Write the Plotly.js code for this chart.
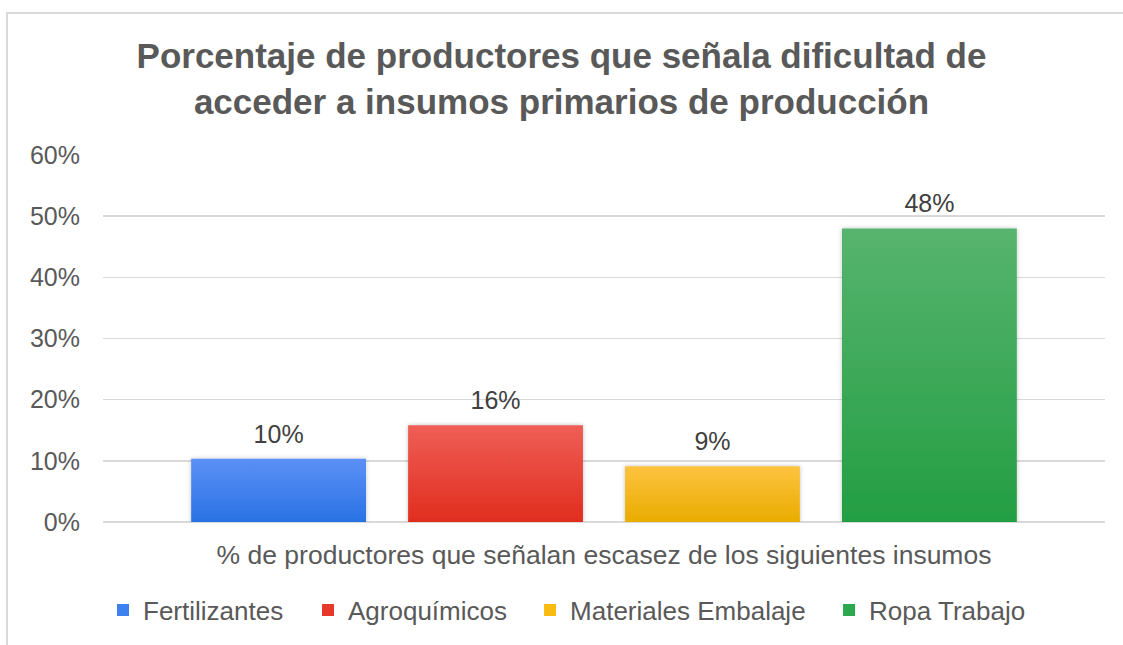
<!DOCTYPE html>
<html>
<head>
<meta charset="utf-8">
<script src="https://cdn.plot.ly/plotly-3.0.1.min.js"></script>
<style>
  html, body { margin: 0; padding: 0; background: #fff; }
  #wrap { position: relative; width: 1123px; height: 645px; overflow: hidden; }
  #chart { width: 1123px; height: 645px; }
  #frame { position: absolute; left: 6px; top: 12px; right: -10px; bottom: -10px;
           border-left: 2px solid #d9d9d9; border-top: 2px solid #d9d9d9; pointer-events: none; }
</style>
</head>
<body>
<div id="wrap">
  <div id="chart"></div>
  <div id="frame"></div>
</div>
<script>
// Data
const category = ["% de productores que señalan escasez de los siguientes insumos"];
const seriesNames = ["Fertilizantes", "Agroquímicos", "Materiales Embalaje", "Ropa Trabajo"];
const seriesValues = [10.35, 15.8, 9.1, 48.0];
const yTickVals = [0, 10, 20, 30, 40, 50, 60];
const yTickText = ["0%", "10%", "20%", "30%", "40%", "50%", "60%"];

// Styles
const FONT = "Liberation Sans, Arial, sans-serif";
const colors = ["#3d80f0", "#e8382c", "#f8bb12", "#2ea84f"];
const gradients = [
  ["#5b90f6", "#2a72e4"],
  ["#ef5e56", "#e02d1e"],
  ["#fdc340", "#e9ac00"],
  ["#57b46e", "#239e43"]
];
const legendIds = ["legend", "legend2", "legend3", "legend4"];
const legendX = [0.0, 0.2046, 0.4262, 0.7246];

const traces = seriesNames.map((name, i) => ({
  type: "bar",
  name: name,
  x: category,
  y: [seriesValues[i]],
  legend: legendIds[i],
  marker: { color: colors[i], line: { width: 0 } },
  texttemplate: "%{y:.0f}%",
  textposition: "outside",
  cliponaxis: false,
  textfont: { family: FONT, size: 25, color: "#404040" },
  hoverinfo: "none"
}));

const layout = {
  width: 1123,
  height: 645,
  margin: { l: 103, r: 18, t: 155, b: 123 },
  paper_bgcolor: "rgba(0,0,0,0)",
  plot_bgcolor: "rgba(0,0,0,0)",
  barmode: "group",
  bargap: 0.134,
  bargroupgap: 0.194,
  showlegend: true,
  title: {
    text: "<b>Porcentaje de productores que señala dificultad de<br>acceder a insumos primarios de producción</b>",
    font: { family: FONT, size: 35, color: "#595959" },
    x: 0.5, xanchor: "center",
    y: 0.894, yanchor: "top"
  },
  xaxis: {
    type: "category",
    showgrid: false,
    zeroline: false,
    showline: false,
    ticks: "",
    ticklabelstandoff: 14,
    tickfont: { family: FONT, size: 26.5, color: "#595959" }
  },
  yaxis: {
    range: [0, 60],
    tickvals: yTickVals,
    ticktext: yTickText,
    showgrid: true,
    gridcolor: "#d9d9d9",
    gridwidth: 1.5,
    zeroline: true,
    zerolinecolor: "#d9d9d9",
    zerolinewidth: 1.5,
    showline: false,
    ticks: "",
    ticklabelstandoff: 22,
    tickfont: { family: FONT, size: 25, color: "#595959" }
  }
};
legendIds.forEach((id, i) => {
  layout[id] = {
    orientation: "h",
    x: legendX[i], xanchor: "left",
    y: -0.24, yanchor: "middle",
    bgcolor: "rgba(0,0,0,0)",
    font: { family: FONT, size: 26, color: "#595959" },
    itemwidth: 30
  };
});

Plotly.newPlot("chart", traces, layout, { displayModeBar: false, staticPlot: true }).then(gd => {
  const svg = gd.querySelector("svg.main-svg");
  const ns = "http://www.w3.org/2000/svg";
  let defs = svg.querySelector("defs");
  if (!defs) { defs = document.createElementNS(ns, "defs"); svg.insertBefore(defs, svg.firstChild); }
  gradients.forEach((g, i) => {
    const lg = document.createElementNS(ns, "linearGradient");
    lg.setAttribute("id", "barGrad" + i);
    lg.setAttribute("x1", "0"); lg.setAttribute("y1", "0");
    lg.setAttribute("x2", "0"); lg.setAttribute("y2", "1");
    [[0, g[0]], [1, g[1]]].forEach(([o, c]) => {
      const s = document.createElementNS(ns, "stop");
      s.setAttribute("offset", o);
      s.setAttribute("stop-color", c);
      lg.appendChild(s);
    });
    defs.appendChild(lg);
  });
  const f = document.createElementNS(ns, "filter");
  f.setAttribute("id", "barShadow");
  f.setAttribute("x", "-10%"); f.setAttribute("y", "-10%");
  f.setAttribute("width", "120%"); f.setAttribute("height", "120%");
  f.innerHTML = '<feDropShadow dx="0" dy="0" stdDeviation="2" flood-color="#000" flood-opacity="0.25"/>';
  defs.appendChild(f);
  gd.querySelectorAll(".barlayer .trace").forEach((tr, i) => {
    tr.querySelectorAll(".point path").forEach(p => {
      p.style.fill = "url(#barGrad" + i + ")";
      p.style.filter = "url(#barShadow)";
    });
    tr.querySelectorAll(".point text").forEach(t => {
      const tf = t.getAttribute("transform") || "";
      t.setAttribute("transform", "translate(0,-8) " + tf);
    });
  });
});
</script>
</body>
</html>
